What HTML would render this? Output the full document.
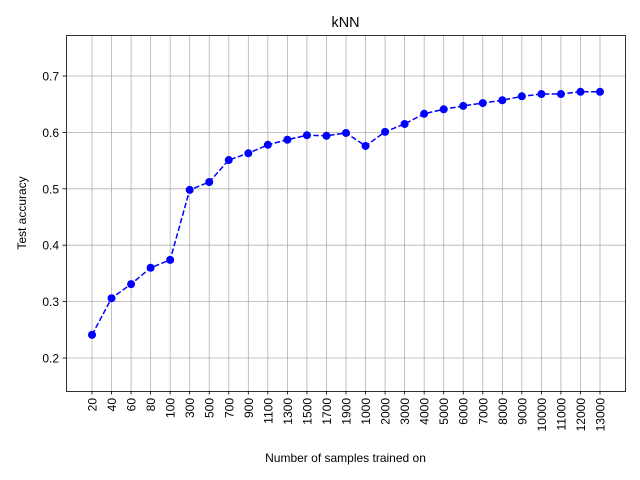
<!DOCTYPE html>
<html><head><meta charset="utf-8"><style>
html,body{margin:0;padding:0;background:#fff}
svg{display:block;font-family:"Liberation Sans","DejaVu Sans",sans-serif}
</style></head><body>
<svg id="chart" width="640" height="480" viewBox="0 0 640 480">
<rect width="640" height="480" fill="#fff"/>
<text x="345.5" y="27" font-size="14.4" text-anchor="middle">kNN</text>
<g id="grid"></g>
<g id="series"></g>
<rect x="66.5" y="35.5" width="559" height="356" fill="none" stroke="#000" stroke-width="0.8"/>
<g id="xticks"></g>
<g id="yticks"></g>
<text x="345.5" y="462" font-size="12" text-anchor="middle">Number of samples trained on</text>
<text transform="translate(26,213) rotate(-90)" font-size="12" text-anchor="middle">Test accuracy</text>
</svg>
<script>
const categories = ["20","40","60","80","100","300","500","700","900","1100","1300","1500","1700","1900","1000","2000","3000","4000","5000","6000","7000","8000","9000","10000","11000","12000","13000"];
const accuracy = [0.241,0.306,0.331,0.360,0.374,0.498,0.512,0.551,0.563,0.578,0.587,0.595,0.594,0.599,0.576,0.601,0.615,0.633,0.641,0.647,0.652,0.657,0.664,0.668,0.668,0.672,0.672];
const yTicks = [0.2,0.3,0.4,0.5,0.6,0.7];
const yTickLabels = ["0.2","0.3","0.4","0.5","0.6","0.7"];

const NS="http://www.w3.org/2000/svg";
const L=66,R=625,T=35,B=391;
const yMin=0.1415,yMax=0.7727;
function y(v){return B-(v-yMin)/(yMax-yMin)*(B-T);}
const n=categories.length;
const x0=92,x1=600;
function x(i){return x0+i*(x1-x0)/(n-1);}
function mk(tag,attrs,parent){const e=document.createElementNS(NS,tag);for(const k in attrs)e.setAttribute(k,attrs[k]);parent.appendChild(e);return e;}
const grid=document.getElementById('grid'),xt=document.getElementById('xticks'),yt=document.getElementById('yticks'),ser=document.getElementById('series');
categories.forEach((c,i)=>{
  const gl=mk('line',{x1:x(i),x2:x(i),y1:T,y2:B,stroke:'#b0b0b0','stroke-width':0.8},grid);
  
  
  const tk=mk('line',{x1:x(i),x2:x(i),y1:B,y2:B+3.5,stroke:'#000','stroke-width':0.8},xt);
  
  
  const t=mk('text',{transform:`translate(${x(i)+4.5},${B+7}) rotate(-90)`,'font-size':12,'text-anchor':'end'},xt);
  t.textContent=c;
  
  
});
yTicks.forEach((v,i)=>{
  const gl=mk('line',{x1:L,x2:R,y1:y(v),y2:y(v),stroke:'#b0b0b0','stroke-width':0.8},grid);
  
  
  const tk=mk('line',{x1:L-3.5,x2:L,y1:y(v),y2:y(v),stroke:'#000','stroke-width':0.8},yt);
  
  
  const t=mk('text',{x:L-7,y:y(v)+4.5,'font-size':12,'text-anchor':'end'},yt);
  t.textContent=yTickLabels[i];
  
  
});
const pts=accuracy.map((v,i)=>x(i)+','+y(v)).join(' ');
const pl=mk('polyline',{points:pts,fill:'none',stroke:'#0000ff','stroke-width':1.5,'stroke-dasharray':'5.5,2.4'},ser);


accuracy.forEach((v,i)=>{
  const c=mk('circle',{cx:x(i),cy:y(v),r:4,fill:'#0000ff'},ser);
  
  
});
</script>
</body></html>
